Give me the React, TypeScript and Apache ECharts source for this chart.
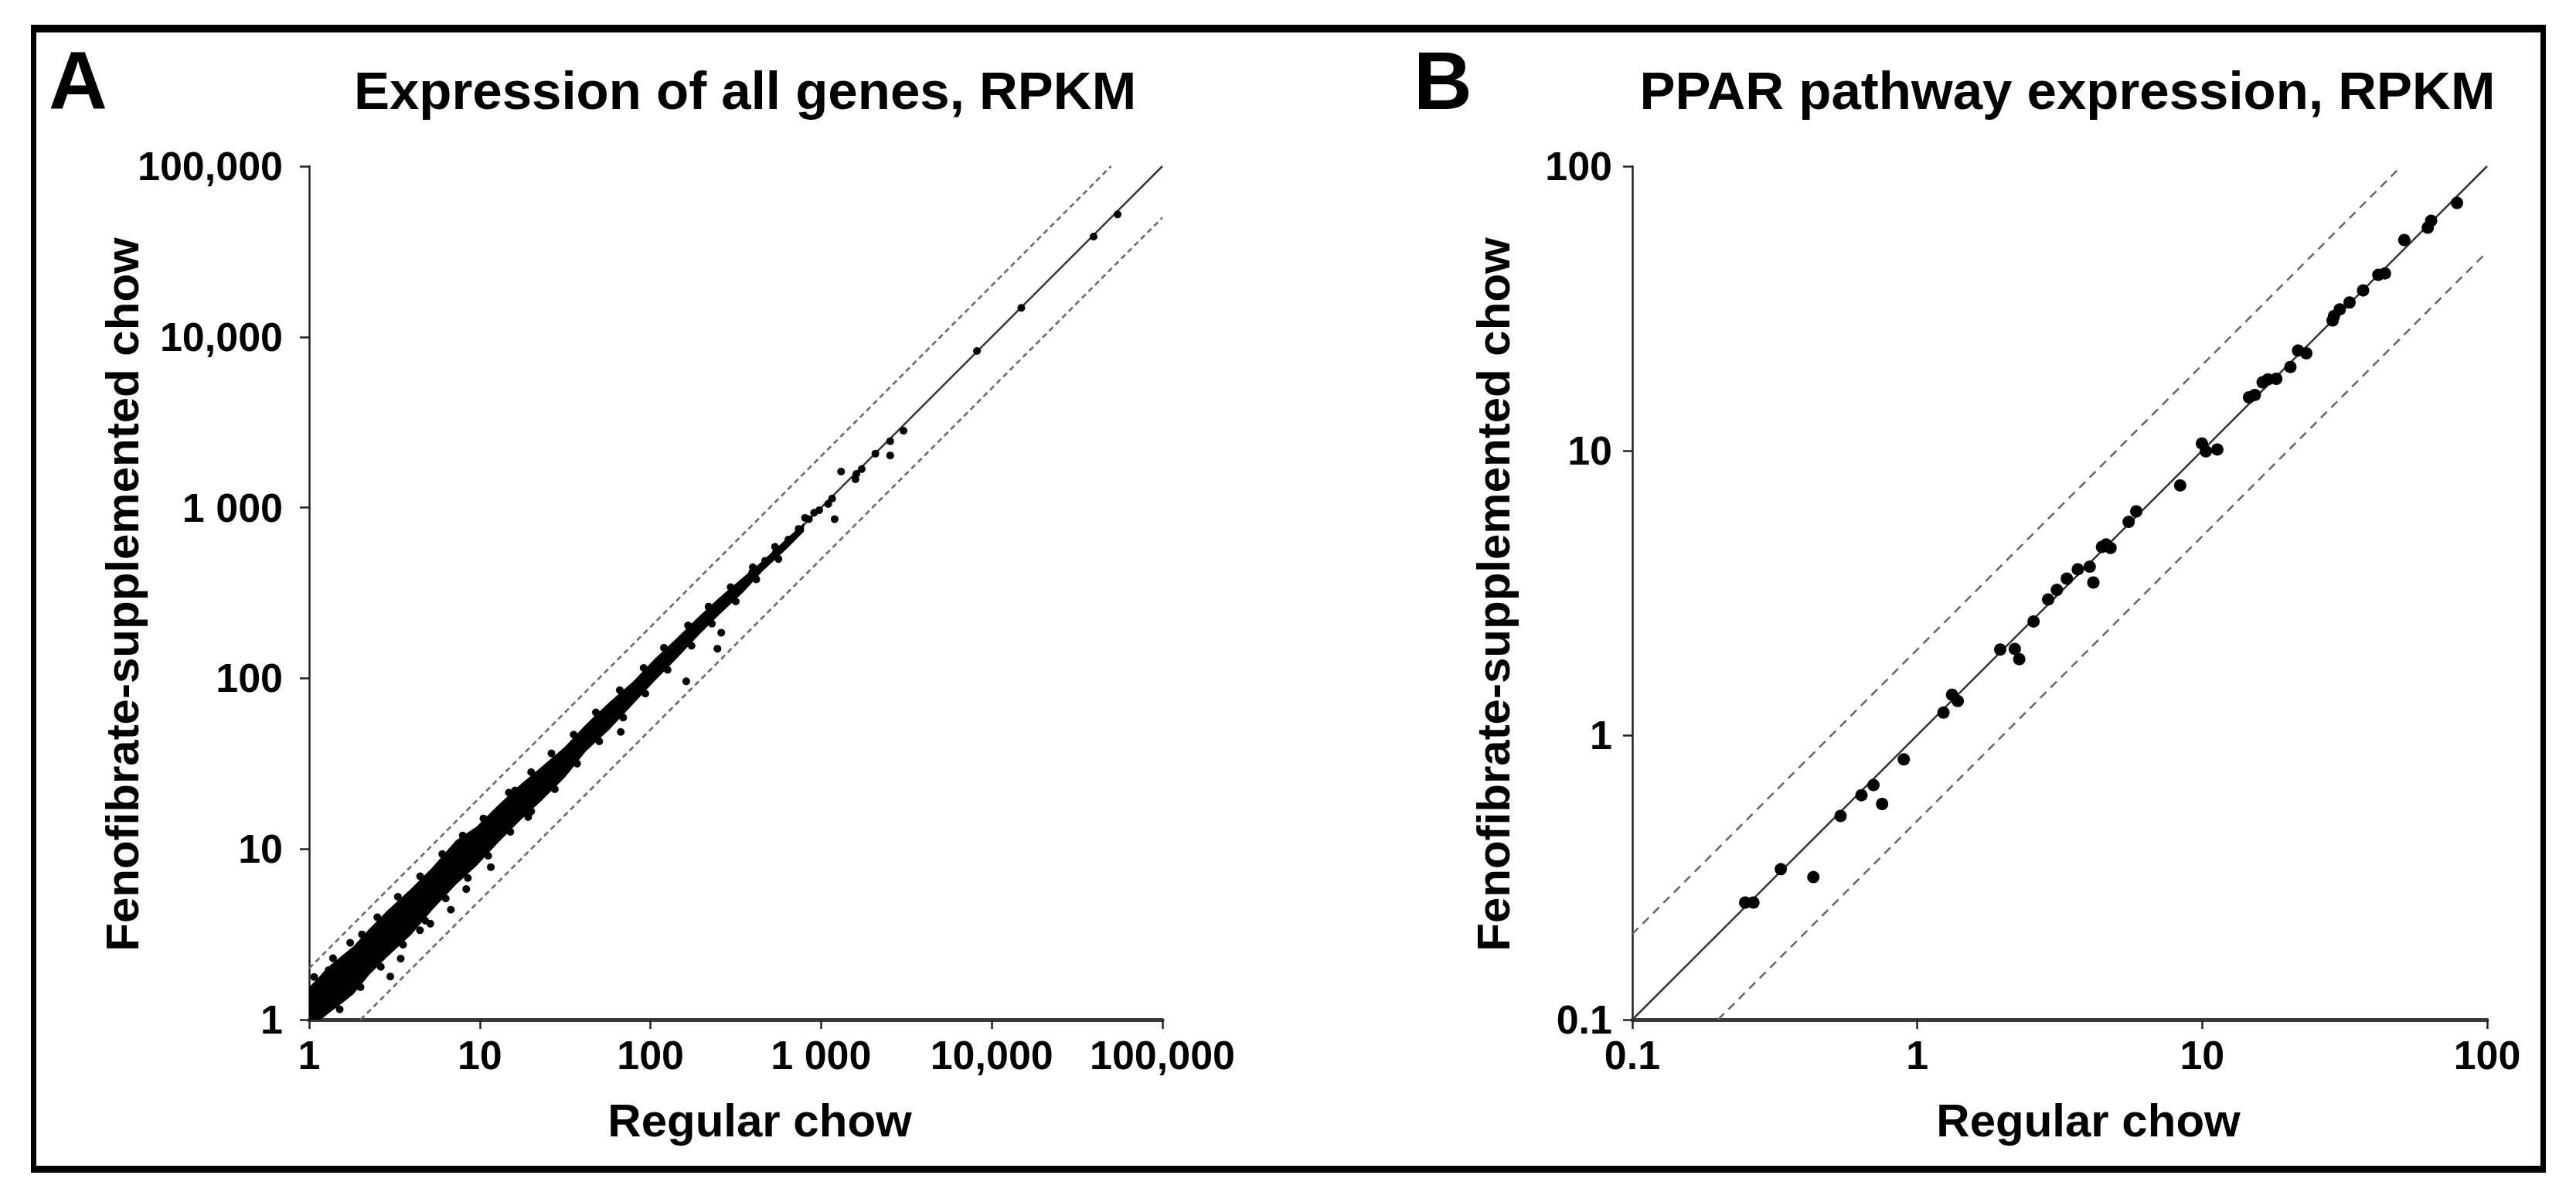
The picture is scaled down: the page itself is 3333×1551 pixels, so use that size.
import React, { useEffect, useRef } from "react";
import * as echarts from "echarts";

// ---------- tick labels ----------
const ticksA = ["1", "10", "100", "1 000", "10,000", "100,000"];
const ticksB = ["0.1", "1", "10", "100"];

// ---------- panel A: all genes (Regular chow RPKM, Fenofibrate chow RPKM) ----------
// outline of the dense cloud of genes, read along its upper and lower edges
const bandUpperA = [
  [1, 1.55], [1.12, 1.74], [1.26, 1.99], [1.41, 2.19], [1.58, 2.4], [1.82, 2.69],
  [2.24, 3.39], [2.88, 4.37], [3.98, 5.89], [5.25, 7.76], [7.24, 11.2], [9.55, 13.5],
  [12.6, 17.8], [17.4, 24.0], [22.9, 30.2], [31.6, 39.8], [41.7, 53.5], [57.5, 72.4],
  [79.4, 96.0], [105, 129], [141, 170], [191, 229], [251, 295], [347, 389],
  [457, 490], [631, 661], [794, 813]
];
const bandLowerA = [
  [794, 724], [631, 575], [457, 427], [347, 316], [251, 234], [191, 178], [141, 129],
  [105, 95.5], [79.4, 70.8], [57.5, 50.1], [41.7, 37.2], [31.6, 26.3], [22.9, 19.1],
  [17.4, 14.8], [12.6, 10.7], [9.55, 7.94], [7.24, 6.17], [5.25, 4.37], [3.98, 3.16],
  [2.88, 2.34], [2.24, 1.82], [1.82, 1.41], [1.58, 1.26], [1.32, 1.1], [1.17, 1], [1, 1]
];
// genes sticking out of the cloud edges
const edgeUpperA = [
  [1.07, 1.78], [1.38, 2.29], [1.74, 2.82], [2.04, 3.16], [2.51, 3.98], [3.31, 5.25],
  [4.47, 6.92], [6.03, 9.33], [7.94, 12.0], [10.5, 15.1], [14.8, 21.4], [20.0, 28.2],
  [26.3, 36.3], [35.5, 46.8], [47.9, 63.1], [66.1, 85.1], [91.2, 115], [120, 151],
  [166, 204], [219, 263], [295, 342], [398, 447], [537, 589]
];
const edgeLowerA = [
  [1.51, 1.15], [2.0, 1.55], [2.63, 2.04], [3.55, 2.75], [4.79, 3.8], [6.31, 5.13],
  [8.51, 6.76], [11.2, 9.12], [15.1, 12.6], [20.0, 16.6], [27.5, 22.4], [37.2, 31.6],
  [50.1, 42.7], [69.2, 58.9], [93.3, 81.3], [126, 112], [174, 155], [229, 209],
  [316, 282], [417, 380], [562, 500]
];
// isolated genes
const outliersA = [
  [1.30, 1.95], [2.99, 1.79], [3.44, 2.28], [4.46, 3.34], [5.13, 3.65], [6.77, 4.41],
  [8.33, 5.82], [11.6, 7.83], [19.2, 15.4], [16.1, 22.0], [67, 48.5], [162, 96],
  [247, 149], [260, 185]
];
// highly expressed genes (sparse upper part)
const highA = [
  [299, 318], [344, 360], [395, 418], [470, 488], [540, 540], [643, 650], [738, 750],
  [849, 855], [805, 870], [910, 933], [975, 965], [1100, 1050], [1160, 1130], [1200, 855],
  [1310, 1625], [1610, 1575], [1730, 1680], [1590, 1465], [2080, 2070], [2540, 2450],
  [2540, 2020], [3040, 2820], [8190, 8270], [14900, 14800], [39500, 38700], [54600, 52200]
];
const refA = { equal: [[1, 1], [100000, 100000]], up2: [[1, 2], [50000, 100000]], down2: [[2, 1], [100000, 50000]] };

// ---------- panel B: PPAR pathway genes ----------
const pointsB = [
  [0.249, 0.258], [0.266, 0.258], [0.332, 0.338], [0.432, 0.317], [0.538, 0.52],
  [0.637, 0.615], [0.702, 0.668], [0.753, 0.573], [0.897, 0.822], [1.236, 1.2],
  [1.325, 1.387], [1.387, 1.318], [1.955, 2.0], [2.2, 2.01], [2.28, 1.85],
  [2.56, 2.51], [2.88, 3.0], [3.09, 3.24], [3.35, 3.55], [3.66, 3.83],
  [4.03, 3.91], [4.15, 3.44], [4.45, 4.59], [4.6, 4.68], [4.77, 4.55],
  [5.52, 5.62], [5.87, 6.12], [8.37, 7.55], [9.98, 10.6], [10.3, 9.95],
  [11.3, 10.1], [14.6, 15.4], [15.3, 15.7], [16.3, 17.4], [17.0, 17.8],
  [18.2, 17.9], [20.4, 19.7], [21.7, 22.5], [23.2, 22.0], [28.7, 28.7],
  [29.0, 29.7], [30.4, 31.4], [32.9, 33.2], [36.7, 36.6], [41.5, 41.5],
  [43.8, 42.0], [51.2, 55.0], [61.9, 60.8], [63.6, 64.3], [78.4, 74.3]
];
const refB = { equal: [[0.1, 0.1], [100, 100]], up2: [[0.1, 0.2], [50, 100]], down2: [[0.2, 0.1], [100, 50]] };

const titles = ["Expression of all genes, RPKM", "PPAR pathway expression, RPKM"];
const xName = "Regular chow";
const yName = "Fenofibrate-supplemented chow";

const FONT = '"Liberation Sans", Arial, Helvetica, sans-serif';

function makeAxis(labels: string[], offset: number, isX: boolean, gridIndex: number, min: number, max: number, margin: number) {
  return {
    type: "log",
    logBase: 10,
    gridIndex,
    min,
    max,
    splitNumber: labels.length - 1,
    axisLine: { show: true, lineStyle: { color: isX ? "#3a3a3a" : "#222", width: isX ? 5 : 2.5 } },
    axisTick: { show: true, length: 12, lineStyle: { color: "#222", width: 2.5 } },
    axisLabel: {
      margin,
      color: "#000",
      fontFamily: FONT,
      fontWeight: "bold",
      fontSize: 52,
      formatter: (v: number) => labels[Math.round(Math.log10(v)) + offset] ?? "",
    },
    splitLine: { show: false },
    minorTick: { show: false },
  };
}

function refLines(ref: any, idx: number, dash: number[]) {
  const base = { type: "line", xAxisIndex: idx, yAxisIndex: idx, symbol: "none", silent: true, z: 1 };
  return [
    { ...base, name: "y = x", data: ref.equal, lineStyle: { color: "#333", width: 2.5 } },
    { ...base, name: "2-fold up", data: ref.up2, lineStyle: { color: "#666", width: 2.5, type: dash } },
    { ...base, name: "2-fold down", data: ref.down2, lineStyle: { color: "#666", width: 2.5, type: dash } },
  ];
}

function scatter(name: string, idx: number, data: number[][], size: number) {
  return {
    type: "scatter",
    name,
    xAxisIndex: idx,
    yAxisIndex: idx,
    data,
    symbolSize: size,
    itemStyle: { color: "#000", opacity: 1 },
    z: 3,
  };
}

function text(str: string, x: number, y: number, size: number, align: string, rotation = 0) {
  return {
    type: "text",
    x,
    y,
    rotation,
    style: {
      text: str,
      fill: "#000",
      fontFamily: FONT,
      fontWeight: "bold",
      fontSize: size,
      align,
      textAlign: align,
      verticalAlign: "middle",
      textVerticalAlign: "middle",
    },
  };
}

export default function App() {
  const ref = useRef<HTMLDivElement>(null);
  useEffect(() => {
    if (!ref.current) return;
    const chart = echarts.init(ref.current, null, { renderer: "svg" });
    const bandPolygon = [...bandUpperA, ...bandLowerA];
    const option: any = {
      animation: false,
      backgroundColor: "#fff",
      grid: [
        { left: 400, top: 215, width: 1104, height: 1104 },
        { left: 2112, top: 215, width: 1106, height: 1104 },
      ],
      xAxis: [
        makeAxis(ticksA, 0, true, 0, 1, 100000, 20),
        makeAxis(ticksB, 1, true, 1, 0.1, 100, 20),
      ],
      yAxis: [
        makeAxis(ticksA, 0, false, 0, 1, 100000, 34),
        makeAxis(ticksB, 1, false, 1, 0.1, 100, 26),
      ],
      series: [
        ...refLines(refA, 0, [7, 5]),
        ...refLines(refB, 1, [11, 8]),
        {
          type: "custom",
          name: "all genes (dense)",
          xAxisIndex: 0,
          yAxisIndex: 0,
          data: [[1, 1]],
          z: 2,
          silent: true,
          renderItem: (_p: any, api: any) => ({
            type: "polygon",
            shape: { points: bandPolygon.map((p) => api.coord(p)) },
            style: { fill: "#000" },
          }),
        },
        scatter("edge up", 0, edgeUpperA, 10),
        scatter("edge down", 0, edgeLowerA, 10),
        scatter("outliers", 0, outliersA, 10),
        scatter("high", 0, highA, 10),
        scatter("PPAR genes", 1, pointsB, 16),
      ],
      graphic: [
        // frame
        { type: "rect", shape: { x: 40, y: 32, width: 3254, height: 10 }, style: { fill: "#000" } },
        { type: "rect", shape: { x: 40, y: 1508, width: 3254, height: 9 }, style: { fill: "#000" } },
        { type: "rect", shape: { x: 40, y: 32, width: 7, height: 1485 }, style: { fill: "#000" } },
        { type: "rect", shape: { x: 3287, y: 32, width: 7, height: 1485 }, style: { fill: "#000" } },
        // panel letters and titles
        text("A", 63, 104, 105, "left"),
        text("B", 1829, 104, 105, "left"),
        text(titles[0], 964, 117, 69, "center"),
        text(titles[1], 2675, 117, 69, "center"),
        // axis names
        text(xName, 983, 1449, 60, "center"),
        text(xName, 2702, 1449, 60, "center"),
        text(yName, 158, 769, 60, "center", Math.PI / 2),
        text(yName, 1932, 769, 60, "center", Math.PI / 2),
      ],
    };
    chart.setOption(option);
    return () => chart.dispose();
  }, []);
  return (
    <div
      ref={ref}
      style={{ position: "fixed", left: 0, top: 0, width: "3333px", height: "1551px", background: "#fff" }}
    />
  );
}
